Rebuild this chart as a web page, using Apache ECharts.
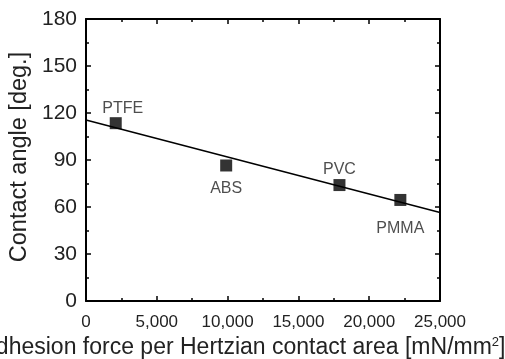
<!DOCTYPE html>
<html>
<head>
<meta charset="utf-8">
<script src="https://cdn.jsdelivr.net/npm/echarts@6/dist/echarts.min.js"></script>
<style>
  html, body { margin: 0; padding: 0; background: #fff; }
  #chart { width: 505px; height: 359px; }
</style>
</head>
<body>
<div id="chart"></div>
<script>
// measured samples
const materials = ["PTFE", "ABS", "PVC", "PMMA"];
const adhesion = [2100, 9900, 17900, 22200];
const contactAngle = [113.5, 86.5, 74, 64.5];
// linear fit drawn across the axis range
const fitX = [0, 25000];
const fitY = [115.5, 56.5];
const labelPos = ["top", "bottom", "top", "bottom"];
const labelGap = [1, 9, 1, 15];

const chart = echarts.init(document.getElementById("chart"));

const baseFont = "'Liberation Sans', Arial, sans-serif";

const axisCommon = {
  axisLine: { show: true, onZero: false, lineStyle: { color: "#000", width: 2 } },
  axisTick: { show: true, inside: true, length: 5, lineStyle: { color: "#000", width: 1.5 } },
  minorTick: { show: true, splitNumber: 2, length: 3, lineStyle: { color: "#000", width: 1.5 } },
  splitLine: { show: false },
};

const option = {
  animation: false,
  grid: { left: 86, right: 65, top: 19, bottom: 58, outerBoundsMode: "none" },
  xAxis: [
    {
      ...axisCommon,
      type: "value",
      min: 0, max: 25000, interval: 5000,
      name: "Adhesion force per Hertzian contact area [mN/mm{sup|2}]",
      nameLocation: "middle",
      nameGap: 35,
      nameTextStyle: {
        color: "#222", fontSize: 23, fontFamily: baseFont,
        padding: [0, 40, 0, 0],
        rich: { sup: { fontSize: 13, verticalAlign: "top", padding: [0, 0, 10, 0], color: "#222" } },
      },
      axisLabel: {
        color: "#222", fontSize: 17, fontFamily: baseFont, margin: 13,
        formatter: (v) => v.toLocaleString("en-US"),
      },
    },
    {
      ...axisCommon,
      type: "value", position: "top",
      min: 0, max: 25000, interval: 5000,
      axisLabel: { show: false },
    },
  ],
  yAxis: [
    {
      ...axisCommon,
      type: "value",
      min: 0, max: 180, interval: 30,
      name: "Contact angle [deg.]",
      nameLocation: "middle",
      nameGap: 54,
      nameTextStyle: { color: "#222", fontSize: 23.5, fontFamily: baseFont, padding: [0, 0, 0, 6] },
      axisLabel: { color: "#222", fontSize: 21, fontFamily: baseFont, margin: 9 },
    },
    {
      ...axisCommon,
      type: "value", position: "right",
      min: 0, max: 180, interval: 30,
      axisLabel: { show: false },
    },
  ],
  series: [
    {
      type: "line",
      data: fitX.map((x, i) => [x, fitY[i]]),
      symbol: "none",
      lineStyle: { color: "#000", width: 1.5 },
      z: 2,
    },
    {
      type: "scatter",
      symbol: "rect",
      symbolSize: 12,
      itemStyle: { color: "#000" },
      data: adhesion.map((x, i) => ({
        value: [x, contactAngle[i]],
        label: {
          show: true,
          formatter: materials[i],
          position: labelPos[i],
          distance: labelGap[i],
          offset: i === 0 ? [7, 0] : [0, 0],
          color: "#222",
          fontSize: 16,
          fontFamily: baseFont,
        },
      })),
      z: 3,
    },
  ],
};

chart.setOption(option);
</script>
</body>
</html>
